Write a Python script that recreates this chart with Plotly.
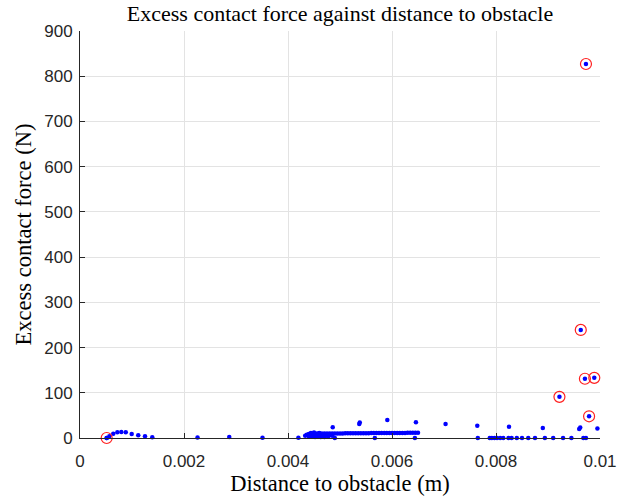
import plotly.graph_objects as go

# ---- data ----
arc_x = [0.000513, 0.000564, 0.00064, 0.000718, 0.000795, 0.00088, 0.000994, 0.00112, 0.00125, 0.00139]
arc_y = [0, 4, 9.5, 12.5, 13, 12.5, 9, 6, 4, 1.5]

sparse_x = [0.00226, 0.00287, 0.00351, 0.0042]
sparse_y = [1, 2, 0.5, 0.5]

band_x = [0.00440, 0.00445, 0.00450, 0.00455, 0.00460, 0.00465, 0.00470, 0.00475, 0.00480, 0.00485,
          0.00490, 0.00495, 0.00500, 0.00505, 0.00510, 0.00515, 0.00520, 0.00525, 0.00530, 0.00535,
          0.00540, 0.00545, 0.00550, 0.00555, 0.00560, 0.00565, 0.00570, 0.00575, 0.00580, 0.00585,
          0.00590, 0.00595, 0.00600, 0.00605, 0.00610, 0.00615, 0.00620, 0.00625, 0.00630, 0.00635,
          0.00640, 0.00645, 0.00650]
band_y = [9, 9.5, 9.5, 10, 10, 10, 10, 10, 10, 10,
          10, 10, 10, 10, 10.5, 10.5, 10.5, 10.5, 10.5, 10.5,
          10.5, 10.5, 10.5, 10.5, 11, 11, 11, 11, 11, 11,
          11, 11, 11, 11, 11, 11, 11, 11, 11.5, 11.5,
          11.5, 11.5, 11.5]

blob_x = [0.00433, 0.00436, 0.00440, 0.00442, 0.00444, 0.00446, 0.00448, 0.00450, 0.00452, 0.00455,
          0.00458, 0.00460, 0.00463, 0.00466, 0.00470, 0.00473, 0.00477, 0.00480, 0.00485]
blob_y = [5, 7, 4, 8, 11, 3, 6, 12, 2, 7,
          3, 11, 2, 5, 2, 8, 3, 6, 5]

scatter_x = [0.00486, 0.00537, 0.00538, 0.00591, 0.0049, 0.00567, 0.00646, 0.00644, 0.00703, 0.00764,
             0.00765, 0.00825, 0.0089, 0.0096, 0.00962, 0.00995,
             0.00788, 0.00792, 0.00797, 0.00802, 0.00808, 0.00814, 0.00824, 0.0083, 0.0084, 0.0085,
             0.00862, 0.00875, 0.00894, 0.0091, 0.00929, 0.00945, 0.00968, 0.00973]
scatter_y = [24, 31, 34, 40, 0, 0, 35, 0, 31, 27,
             0, 25, 22, 20, 23, 21,
             0, 0, 0, 0, 0, 0, 0, 0, 0, 0,
             0, 0, 0, 0, 0, 0, 0, 0]

outlier_x = [0.000513, 0.00973, 0.00963, 0.00971, 0.00989, 0.00922, 0.00979]
outlier_y = [0, 827, 239, 131, 133, 91, 48]

x_ticks = [0, 0.002, 0.004, 0.006, 0.008, 0.01]
x_tick_labels = ["0", "0.002", "0.004", "0.006", "0.008", "0.01"]
y_ticks = [0, 100, 200, 300, 400, 500, 600, 700, 800, 900]

all_x = arc_x + sparse_x + blob_x + band_x + scatter_x + outlier_x
all_y = arc_y + sparse_y + blob_y + band_y + scatter_y + outlier_y

fig = go.Figure()
fig.add_trace(go.Scatter(x=all_x, y=all_y, mode="markers",
                         marker=dict(color="#0000ff", size=4.5, line=dict(width=0)),
                         showlegend=False, cliponaxis=False))
fig.add_trace(go.Scatter(x=outlier_x, y=outlier_y, mode="markers",
                         marker=dict(symbol="circle-open", color="#ff2020", size=11, line=dict(width=1.2)),
                         showlegend=False, cliponaxis=False))

serif = "Liberation Serif"
sans = "Liberation Sans"
fig.update_layout(
    width=635, height=498,
    margin=dict(l=80, r=35, t=31, b=60),
    paper_bgcolor="white", plot_bgcolor="white",
    title=dict(text="Excess contact force against distance to obstacle",
               font=dict(family=serif, size=22, color="#000000"),
               x=0.5, xref="paper", xanchor="center", y=0.973, yref="container", yanchor="middle"),
    xaxis=dict(range=[0, 0.01], tickvals=x_ticks, ticktext=x_tick_labels,
               showgrid=True, gridcolor="#e3e3e3", gridwidth=1,
               showline=True, linecolor="#262626", linewidth=1,
               ticks="inside", ticklen=5, tickcolor="#262626",
               tickfont=dict(family=sans, size=17, color="#262626"),
               ticklabelstandoff=8, automargin=False,
               zeroline=False,
               title=dict(text="Distance to obstacle (m)", font=dict(family=serif, size=22.5, color="#000000"),
                          standoff=4)),
    yaxis=dict(range=[0, 900], tickvals=y_ticks,
               showgrid=True, gridcolor="#e3e3e3", gridwidth=1,
               showline=True, linecolor="#262626", linewidth=1,
               ticks="inside", ticklen=5, tickcolor="#262626",
               tickfont=dict(family=sans, size=17, color="#262626"),
               ticklabelstandoff=3, automargin=False,
               zeroline=False,
               title=dict(text="Excess contact force (N)", font=dict(family=serif, size=22.5, color="#000000"),
                          standoff=6)),
)

fig.write_html("out.html")
